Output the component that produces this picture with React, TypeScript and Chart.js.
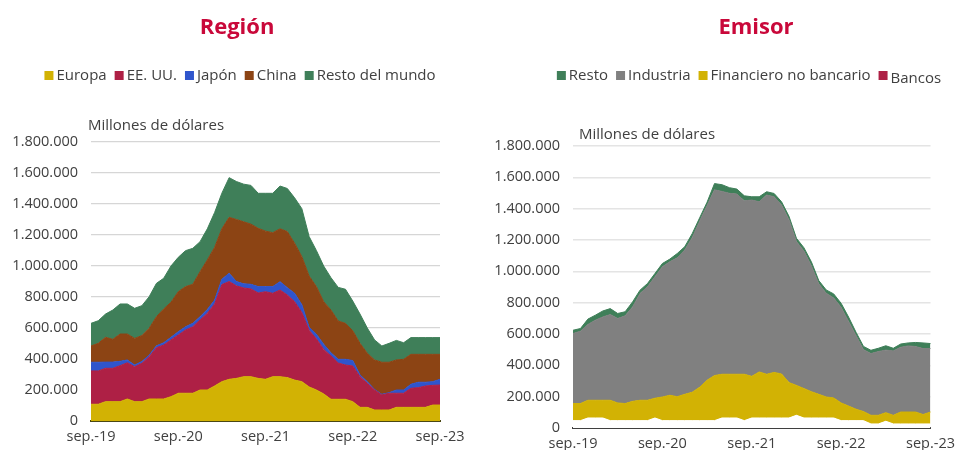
import React, { useEffect, useRef } from "react";
import { Chart, registerables } from "chart.js";

Chart.register(...registerables);

const FONT = "'Open Sans', 'Noto Sans', sans-serif";
const TEXT = "#404040";
const TITLE_COLOR = "#c9083a";

const months = [
  "sep.-19", "oct.-19", "nov.-19", "dic.-19",
  "ene.-20", "feb.-20", "mar.-20", "abr.-20", "may.-20", "jun.-20", "jul.-20", "ago.-20", "sep.-20", "oct.-20", "nov.-20", "dic.-20",
  "ene.-21", "feb.-21", "mar.-21", "abr.-21", "may.-21", "jun.-21", "jul.-21", "ago.-21", "sep.-21", "oct.-21", "nov.-21", "dic.-21",
  "ene.-22", "feb.-22", "mar.-22", "abr.-22", "may.-22", "jun.-22", "jul.-22", "ago.-22", "sep.-22", "oct.-22", "nov.-22", "dic.-22",
  "ene.-23", "feb.-23", "mar.-23", "abr.-23", "may.-23", "jun.-23", "jul.-23", "ago.-23", "sep.-23",
];
const xTickLabels = ["sep.-19", "sep.-20", "sep.-21", "sep.-22", "sep.-23"];

// ---- Región (millones de dólares) ----
const europa = [108000, 108000, 125000, 125000, 125000, 142000, 125000, 125000, 142000, 142000, 142000, 157000, 179000, 179000, 179000, 200000, 200000, 226000, 254000, 269000, 275000, 286000, 286000, 275000, 269000, 286000, 286000, 280000, 264000, 254000, 220000, 200000, 175000, 140000, 140000, 140000, 125000, 88000, 88000, 71000, 71000, 71000, 88000, 88000, 88000, 88000, 88000, 103000, 103000];
const eeuu = [215000, 215000, 215000, 215000, 232000, 234000, 225000, 247000, 273000, 331000, 348000, 366000, 376000, 408000, 429000, 452000, 495000, 529000, 626000, 631000, 597000, 572000, 566000, 551000, 565000, 538000, 559000, 533000, 506000, 446000, 365000, 330000, 287000, 280000, 234000, 221000, 230000, 198000, 155000, 129000, 97000, 108000, 91000, 91000, 123000, 127000, 138000, 127000, 129000];
const japon = [56000, 56000, 40000, 40000, 28000, 18000, 11000, 12000, 10000, 12000, 15000, 17000, 21000, 21000, 22000, 21000, 25000, 25000, 35000, 53000, 28000, 27000, 30000, 41000, 33000, 43000, 54000, 47000, 54000, 50000, 20000, 30000, 33000, 20000, 24000, 37000, 35000, 11000, 11000, 4000, 4000, 4000, 21000, 21000, 26000, 35000, 24000, 24000, 37000];
const china = [105000, 122000, 160000, 147000, 176000, 167000, 172000, 167000, 173000, 188000, 218000, 226000, 258000, 259000, 252000, 290000, 319000, 340000, 325000, 361000, 400000, 400000, 388000, 376000, 358000, 348000, 341000, 362000, 323000, 310000, 330000, 307000, 275000, 276000, 247000, 232000, 192000, 204000, 183000, 190000, 207000, 196000, 194000, 198000, 193000, 180000, 180000, 176000, 161000];
const restoMundo = [146000, 146000, 150000, 189000, 194000, 194000, 194000, 193000, 204000, 215000, 198000, 234000, 222000, 232000, 232000, 194000, 201000, 225000, 230000, 256000, 245000, 243000, 250000, 226000, 244000, 254000, 276000, 278000, 293000, 310000, 255000, 233000, 230000, 209000, 217000, 220000, 192000, 189000, 163000, 129000, 105000, 122000, 126000, 107000, 108000, 108000, 108000, 108000, 108000];

// ---- Emisor (millones de dólares) ----
const bancos = [47000, 47000, 64000, 64000, 64000, 47000, 47000, 47000, 47000, 47000, 47000, 64000, 47000, 47000, 47000, 47000, 47000, 47000, 47000, 47000, 64000, 64000, 64000, 47000, 64000, 64000, 64000, 64000, 64000, 64000, 81000, 64000, 64000, 64000, 64000, 64000, 47000, 47000, 47000, 47000, 26000, 26000, 43000, 26000, 26000, 26000, 26000, 26000, 26000];
const financiero = [109000, 109000, 113000, 113000, 113000, 130000, 113000, 109000, 123000, 130000, 130000, 126000, 151000, 162000, 153000, 168000, 181000, 213000, 258000, 288000, 279000, 279000, 279000, 296000, 266000, 294000, 279000, 291000, 281000, 226000, 191000, 188000, 168000, 151000, 134000, 128000, 113000, 93000, 73000, 58000, 55000, 55000, 55000, 55000, 76000, 76000, 76000, 60000, 76000];
const industria = [447000, 462000, 484000, 511000, 532000, 547000, 539000, 560000, 603000, 682000, 724000, 775000, 831000, 852000, 886000, 921000, 987000, 1060000, 1115000, 1185000, 1167000, 1155000, 1150000, 1107000, 1125000, 1086000, 1144000, 1121000, 1078000, 1040000, 918000, 878000, 803000, 705000, 662000, 638000, 610000, 540000, 470000, 395000, 394000, 407000, 399000, 411000, 413000, 422000, 418000, 421000, 405000];
const restoEmisor = [21000, 17000, 34000, 32000, 38000, 38000, 32000, 26000, 32000, 21000, 21000, 21000, 21000, 17000, 28000, 21000, 25000, 21000, 21000, 40000, 43000, 36000, 32000, 32000, 21000, 32000, 21000, 21000, 21000, 21000, 21000, 21000, 26000, 21000, 21000, 26000, 26000, 28000, 21000, 21000, 21000, 21000, 28000, 17000, 21000, 19000, 26000, 36000, 32000];

const C_EUROPA = "#d2b204";
const C_EEUU = "#ae2045";
const C_JAPON = "#2f55cc";
const C_CHINA = "#8c4414";
const C_RESTO = "#3f7f59";
const C_IND = "#808080";

const fmt = (v: number) => String(Math.round(v)).replace(/\B(?=(\d{3})+(?!\d))/g, ".");

type LegendItem = { label: string; color: string; dy: number };
type DecorOpts = {
  title: string;
  titleX: number;
  titleY: number;
  legendX: number;
  legendY: number;
  items: LegendItem[];
  unit: string;
  unitX: number;
  unitY: number;
};

const decorPlugin = {
  id: "decor",
  afterDraw(chart: any, _args: any, opts: DecorOpts) {
    const ctx = chart.ctx as CanvasRenderingContext2D;
    ctx.save();
    ctx.textBaseline = "alphabetic";
    // title
    ctx.font = `bold 22px ${FONT}`;
    ctx.fillStyle = TITLE_COLOR;
    ctx.textAlign = "center";
    ctx.fillText(opts.title, opts.titleX, opts.titleY);
    // legend
    ctx.font = `15px ${FONT}`;
    ctx.textAlign = "left";
    const box = 9;
    const gap = 3;
    const itemGap = 8;
    const widths = opts.items.map((it) => ctx.measureText(it.label).width);
    const total = widths.reduce((a, w) => a + box + gap + w, 0) + itemGap * (opts.items.length - 1);
    let x = opts.legendX - total / 2;
    opts.items.forEach((it, i) => {
      ctx.fillStyle = it.color;
      ctx.fillRect(x, opts.legendY - box, box, box);
      ctx.fillStyle = TEXT;
      ctx.fillText(it.label, x + box + gap, opts.legendY + it.dy);
      x += box + gap + widths[i] + itemGap;
    });
    // unit
    ctx.font = `15px ${FONT}`;
    ctx.fillStyle = TEXT;
    ctx.fillText(opts.unit, opts.unitX, opts.unitY);
    ctx.restore();
  },
};

function area(label: string, data: number[], color: string, first: boolean) {
  return {
    label,
    data,
    backgroundColor: color,
    borderColor: color,
    borderWidth: 1,
    pointRadius: 0,
    pointHoverRadius: 0,
    tension: 0,
    fill: first ? "origin" : "-1",
  };
}

function makeOptions(cfg: {
  padRight: number;
  padTop: number;
  yWidth: number;
  xHeight: number;
  gridColor: string;
  gridWidth: number;
  axisColor: string;
  decor: DecorOpts;
}) {
  const tickFont = { family: FONT, size: 14.5 };
  return {
    responsive: false,
    animation: false as const,
    layout: { padding: { left: 0, top: cfg.padTop, right: cfg.padRight, bottom: 0 } },
    plugins: {
      legend: { display: false },
      title: { display: false },
      tooltip: { enabled: false },
      decor: cfg.decor,
    },
    scales: {
      x: {
        type: "category" as const,
        offset: false,
        z: 1,
        grid: { display: false, drawTicks: false },
        border: { display: true, color: cfg.axisColor, width: 2 },
        ticks: {
          autoSkip: false,
          maxRotation: 0,
          minRotation: 0,
          padding: 7,
          color: TEXT,
          font: tickFont,
          callback: (_v: any, index: number) =>
            xTickLabels.includes(months[index]) ? months[index] : "",
        },
        afterFit: (s: any) => {
          s.height = cfg.xHeight;
        },
      },
      y: {
        stacked: true,
        min: 0,
        max: 1800000,
        grid: { color: cfg.gridColor, lineWidth: cfg.gridWidth, drawTicks: false },
        border: { display: false },
        ticks: {
          stepSize: 200000,
          padding: 13,
          color: TEXT,
          font: tickFont,
          callback: (v: any) => fmt(Number(v)),
        },
        afterFit: (s: any) => {
          s.width = cfg.yWidth;
        },
      },
    },
  };
}

export default function App() {
  const leftRef = useRef<HTMLCanvasElement>(null);
  const rightRef = useRef<HTMLCanvasElement>(null);

  useEffect(() => {
    const left = new Chart(leftRef.current as HTMLCanvasElement, {
      type: "line",
      data: {
        labels: months,
        datasets: [
          area("Europa", europa, C_EUROPA, true),
          area("EE. UU.", eeuu, C_EEUU, false),
          area("Japón", japon, C_JAPON, false),
          area("China", china, C_CHINA, false),
          area("Resto del mundo", restoMundo, C_RESTO, false),
        ] as any,
      },
      options: makeOptions({
        padRight: 41,
        padTop: 142,
        yWidth: 91,
        xHeight: 29,
        gridColor: "#d6d6d6",
        gridWidth: 1.3,
        axisColor: "#4a4713",
        decor: {
          title: "Región",
          titleX: 237,
          titleY: 34,
          legendX: 240,
          legendY: 80,
          items: [
            { label: "Europa", color: C_EUROPA, dy: 0 },
            { label: "EE. UU.", color: C_EEUU, dy: 0 },
            { label: "Japón", color: C_JAPON, dy: 0 },
            { label: "China", color: C_CHINA, dy: 0 },
            { label: "Resto del mundo", color: C_RESTO, dy: 0 },
          ],
          unit: "Millones de dólares",
          unitX: 88,
          unitY: 130,
        },
      }) as any,
      plugins: [decorPlugin as any],
    });

    const right = new Chart(rightRef.current as HTMLCanvasElement, {
      type: "line",
      data: {
        labels: months,
        datasets: [
          area("Bancos", bancos, "#ffffff", true),
          area("Financiero no bancario", financiero, C_EUROPA, false),
          area("Industria", industria, C_IND, false),
          area("Resto", restoEmisor, C_RESTO, false),
        ] as any,
      },
      options: makeOptions({
        padRight: 29,
        padTop: 146,
        yWidth: 92,
        xHeight: 22,
        gridColor: "#e4e4e4",
        gridWidth: 1.5,
        axisColor: "#3f3f3f",
        decor: {
          title: "Emisor",
          titleX: 275,
          titleY: 34,
          legendX: 268,
          legendY: 80,
          items: [
            { label: "Resto", color: C_RESTO, dy: 0 },
            { label: "Industria", color: C_IND, dy: 0 },
            { label: "Financiero no bancario", color: C_EUROPA, dy: 0 },
            { label: "Bancos", color: C_EEUU, dy: 3 },
          ],
          unit: "Millones de dólares",
          unitX: 98,
          unitY: 139,
        },
      }) as any,
      plugins: [decorPlugin as any],
    });

    return () => {
      left.destroy();
      right.destroy();
    };
  }, []);

  return (
    <div style={{ position: "absolute", left: 0, top: 0, width: 962, height: 450, background: "#ffffff", overflow: "hidden" }}>
      <canvas ref={leftRef} width={481} height={450} style={{ position: "absolute", left: 0, top: 0, width: 481, height: 450 }} />
      <canvas ref={rightRef} width={481} height={450} style={{ position: "absolute", left: 481, top: 0, width: 481, height: 450 }} />
    </div>
  );
}
